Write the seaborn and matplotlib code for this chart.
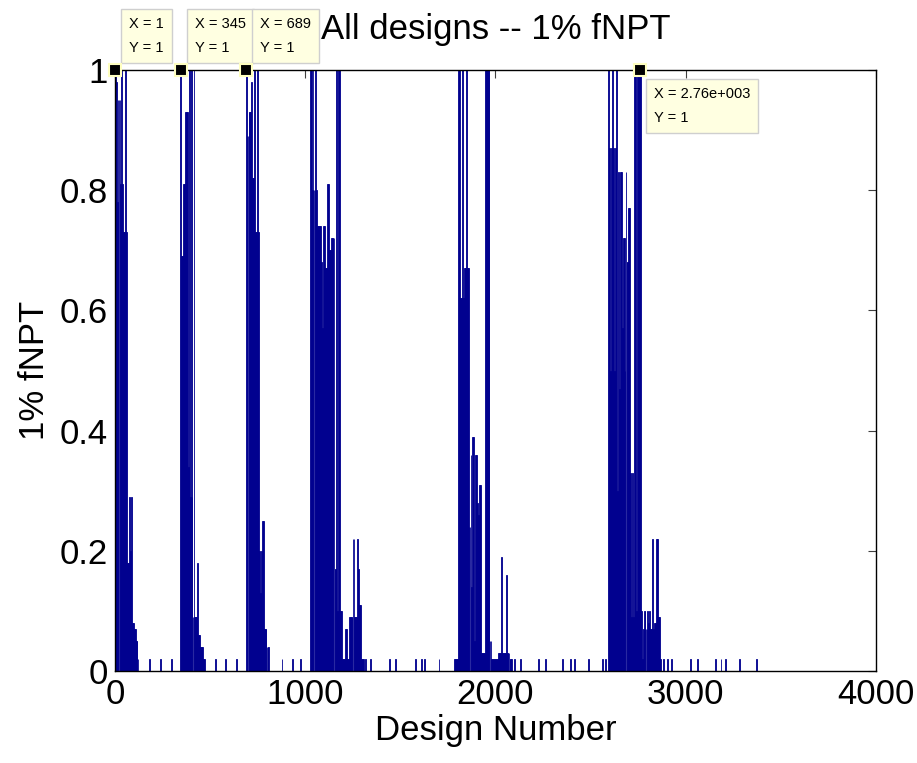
import numpy as np
import pandas as pd
import matplotlib
matplotlib.use('Agg')
import matplotlib.pyplot as plt
import seaborn as sns

# bars, one value every 5 designs inside each dense group
c1_start = 1
c1_vals = [1.0, 0.98, 0.78, 0.95, 0.95, 0.95, 0.81, 1.0, 0.81, 0.73, 0.73, 1.0, 0.73,
           0.18, 0.18, 0.29, 0.2, 0.29, 0.08, 0.08, 0.07, 0.07, 0.05, 0.05, 0.02]

c2_start = 345
c2_vals = [1.0, 0.69, 0.69, 0.81, 0.81, 0.93, 0.93, 0.93, 0.34, 1.0, 0.29, 1.0, 0.29,
           0.09, 1.0, 0.09, 0.09, 0.09, 0.18, 0.06, 0.06, 0.04, 0.04, 0.04, 0.02, 0.02]

c3_start = 689
c3_vals = [1.0, 0.89, 0.89, 0.93, 0.93, 0.93, 0.98, 0.82, 0.82, 1.0, 0.73, 0.73, 1.0,
           0.73, 0.2, 0.13, 0.2, 0.25, 0.25, 0.07, 0.07, 0.07, 0.04, 0.04, 0.04]

c4_start = 1026
c4_vals = [1.0, 1.0, 0.8, 1.0, 0.8, 0.8, 1.0, 0.8, 0.74, 0.74, 0.74, 0.74, 0.68, 0.57,
           0.74, 0.74, 0.67, 0.67, 0.81, 0.81, 0.7, 0.7, 0.72, 0.72, 0.72, 0.72, 0.17,
           0.17, 1.0, 0.1, 1.0, 1.0, 0.1, 0.1, 0.02, 0.02, 0.02, 0.07, 0.07, 0.02, 0.02,
           0.09, 0.09, 0.09, 0.09, 0.22, 0.22, 0.09, 0.09, 0.09, 0.22, 0.17, 0.11, 0.11,
           0.02, 0.02, 0.02]

c5_start = 1786
c5_vals = [0.02, 0.02, 0.02, 0.02, 1.0, 1.0, 0.62, 0.62, 1.0, 0.62, 0.67, 0.67, 1.0,
           0.67, 0.67, 0.24, 0.24, 0.36, 0.14, 0.39, 0.39, 0.05, 0.36, 0.36, 0.28, 0.26,
           0.31, 0.31, 0.03, 0.03, 0.03, 0.03, 1.0, 1.0, 1.0, 1.0, 1.0, 0.05, 0.05, 0.02,
           0.02, 0.02, 0.02, 0.02, 0.02, 0.02, 0.03, 0.03, 0.03, 0.19, 0.03, 0.03, 0.03,
           0.03, 0.16, 0.03, 0.03, 0.03, 0.02, 0.02, 0.02]

c6_start = 2596
c6_vals = [1.0, 0.87, 0.5, 0.87, 1.0, 0.87, 0.5, 0.87, 1.0, 0.3, 0.83, 0.47, 0.83, 0.83,
           0.57, 0.72, 0.72, 0.5, 0.83, 0.68, 0.68, 0.77, 0.77, 0.33, 0.09, 0.33, 0.09,
           1.0, 1.0, 0.1, 1.0, 1.0, 1.0, 1.0, 0.1, 0.02, 0.07, 0.1, 0.1, 0.07, 0.07, 0.1,
           0.08, 0.1, 0.07, 0.07, 0.22, 0.07, 0.08, 0.08, 0.22, 0.22, 0.09, 0.09, 0.02]

# lone small bars between the groups
sparse_designs = [181, 238, 295, 527, 582, 639, 878, 935, 974, 1318, 1345, 1441, 1476,
                  1578, 1613, 1628, 1703, 2098, 2133, 2226, 2261, 2352, 2392, 2413, 2488,
                  2562, 2576, 2885, 2903, 2924, 3026, 3062, 3155, 3185, 3211, 3282, 3370]
sparse_vals = [0.02] * len(sparse_designs)

# data tips shown on the figure
tip_x = [1, 345, 689, 2760]
tip_labels = ['X = 1\nY = 1', 'X = 345\nY = 1', 'X = 689\nY = 1', 'X = 2.76e+003\nY = 1']

groups = [(c1_start, c1_vals), (c2_start, c2_vals), (c3_start, c3_vals),
          (c4_start, c4_vals), (c5_start, c5_vals), (c6_start, c6_vals)]
designs, values = [], []
for start, vals in groups:
    designs += [start + 5 * i for i in range(len(vals))]
    values += vals
designs += sparse_designs
values += sparse_vals
df = pd.DataFrame({'design': designs, 'fnpt': values})

sns.set_style('white')
plt.rcParams['font.family'] = ['Liberation Sans', 'DejaVu Sans']
plt.rcParams['text.color'] = 'black'
plt.rcParams['axes.labelcolor'] = 'black'
plt.rcParams['xtick.color'] = 'black'
plt.rcParams['ytick.color'] = 'black'

fig = plt.figure(figsize=(9.17, 7.63), dpi=100)
ax = fig.add_axes([115 / 917, 1 - 671 / 763, 761 / 917, 601 / 763])

bar_color = '#00008f'
sns.barplot(data=df, x='design', y='fnpt', native_scale=True, errorbar=None,
            color=bar_color, saturation=1, width=0.9, edgecolor=bar_color,
            linewidth=0.6, ax=ax)

ax.set_xlim(0, 4000)
ax.set_ylim(0, 1)
ax.set_xticks([0, 1000, 2000, 3000, 4000])
ax.set_yticks([0, 0.2, 0.4, 0.6, 0.8, 1])
ax.set_yticklabels(['0', '0.2', '0.4', '0.6', '0.8', '1'])
ax.tick_params(direction='in', length=6, width=0.8, labelsize=25, pad=5,
               top=True, right=True, color='#404040', labelcolor='black')
for sp in ax.spines.values():
    sp.set_color('black')
    sp.set_linewidth(1)

ax.set_title('All designs -- 1% fNPT', fontsize=25, pad=22, color='black')
ax.set_xlabel('Design Number', fontsize=25, labelpad=2)
ax.set_ylabel('1% fNPT', fontsize=25, labelpad=6)

# data tips
for i, (tx, lab) in enumerate(zip(tip_x, tip_labels)):
    below = i == len(tip_x) - 1
    ax.plot([tx], [1], marker='s', markersize=8, color='black',
            markeredgecolor='#ffffc0', markeredgewidth=1.5, clip_on=False, zorder=7)
    ax.annotate(lab, xy=(tx, 1), xytext=(10, -12 if below else 11),
                textcoords='offset points', ha='left',
                va='top' if below else 'bottom', fontsize=10.5, linespacing=1.9,
                color='black',
                bbox=dict(boxstyle='square,pad=0.55', fc='#ffffe1', ec='#cfcfcf', lw=1),
                annotation_clip=False, zorder=6)

fig.savefig('out.png', dpi=100)
